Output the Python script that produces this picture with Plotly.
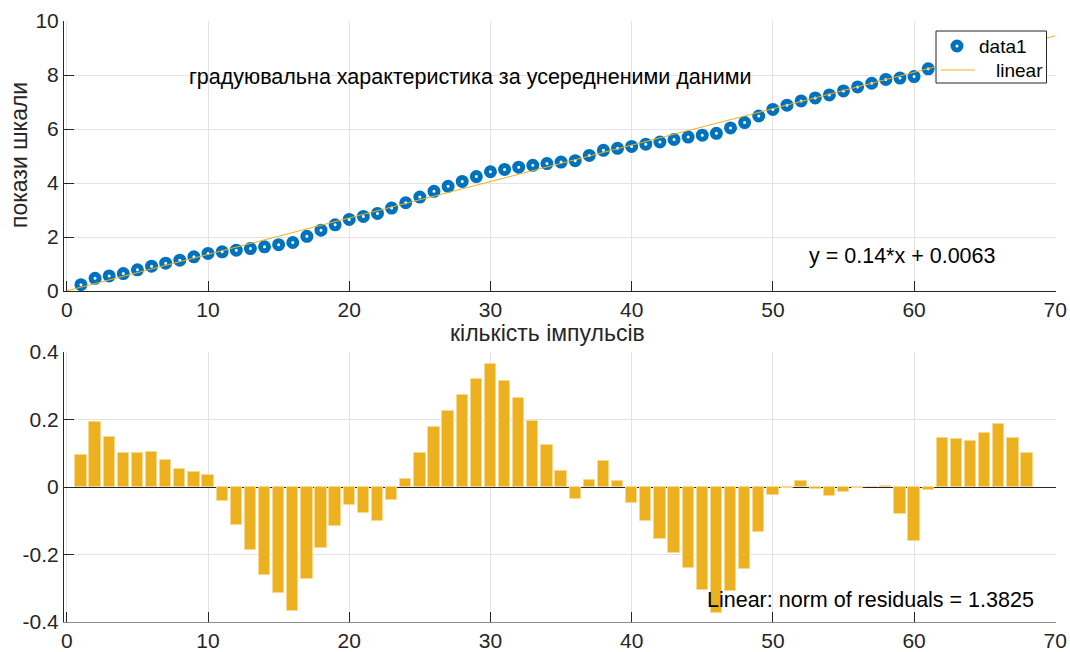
import plotly.graph_objects as go

# Pulse counts (x) and averaged scale readings (y)
pulses = list(range(1, 69))
readings = [
    0.235, 0.470, 0.558, 0.646, 0.783, 0.920, 1.030, 1.140, 1.265, 1.391,
    1.450, 1.511, 1.573, 1.635, 1.717, 1.797, 2.026, 2.254, 2.452, 2.650,
    2.762, 2.874, 3.070, 3.269, 3.480, 3.691, 3.875, 4.058, 4.237, 4.417,
    4.501, 4.586, 4.653, 4.718, 4.774, 4.827, 5.020, 5.210, 5.284, 5.356,
    5.437, 5.519, 5.611, 5.701, 5.771, 5.838, 6.039, 6.238, 6.482, 6.726,
    6.882, 7.040, 7.150, 7.263, 7.411, 7.559, 7.695, 7.835, 7.885, 7.941,
    8.227, 8.516, 8.646, 8.775, 8.936, 9.098, 9.190, 9.282,
]

# Residuals of the linear fit
residuals = [
    0.094, 0.194, 0.147, 0.100, 0.102, 0.104, 0.079, 0.054, 0.045, 0.036,
    -0.040, -0.114, -0.187, -0.260, -0.313, -0.368, -0.274, -0.181, -0.117, -0.054,
    -0.077, -0.100, -0.039, 0.025, 0.101, 0.177, 0.226, 0.274, 0.319, 0.364,
    0.313, 0.263, 0.195, 0.125, 0.046, -0.036, 0.022, 0.077, 0.017, -0.046,
    -0.100, -0.153, -0.196, -0.241, -0.306, -0.374, -0.308, -0.244, -0.134, -0.025,
    -0.004, 0.019, -0.006, -0.028, -0.015, -0.002, -0.001, 0.004, -0.080, -0.159,
    -0.008, 0.146, 0.141, 0.135, 0.161, 0.188, 0.145, 0.102,
]

# Linear fit coefficients and the x span the fitted line covers
fit_slope = 0.1349
fit_intercept = 0.0063
fit_x = [0, 70]
fit_y = [fit_slope * v + fit_intercept for v in fit_x]

BLUE = "#0072BD"
GOLD = "#EDB120"
AX = "#262626"
GRID = "#E3E3E3"
FONT = "Liberation Sans, Arial, sans-serif"
W, H = 1070, 652
TXT = 21.5
TITLE = 23


def px_x(p):
    return p / W


def px_y(p):
    return 1 - p / H


fig = go.Figure()

fig.add_trace(go.Scatter(
    x=pulses, y=readings, mode="markers", name="data1", showlegend=False,
    marker=dict(symbol="circle", size=8, color="white",
                line=dict(color=BLUE, width=5)),
    xaxis="x", yaxis="y",
))
fig.add_trace(go.Scatter(
    x=fit_x, y=fit_y, mode="lines", name="linear", showlegend=False,
    line=dict(color=GOLD, width=1),
    xaxis="x", yaxis="y", cliponaxis=False,
))
fig.add_trace(go.Bar(
    x=pulses, y=residuals, width=0.8, showlegend=False,
    marker=dict(color=GOLD, line=dict(color="#F6D98F", width=1)),
    xaxis="x2", yaxis="y2",
))

common_x = dict(
    range=[-0.2, 70.05], tickvals=[0, 10, 20, 30, 40, 50, 60, 70],
    ticks="inside", ticklen=10, tickcolor=AX, tickwidth=1,
    showgrid=True, gridcolor=GRID, gridwidth=1, zeroline=False,
    showline=True, linewidth=1, automargin=False,
    tickfont=dict(family=FONT, size=21, color=AX),
)
common_y = dict(
    ticks="inside", ticklen=10, tickcolor=AX, tickwidth=1,
    showgrid=True, gridcolor=GRID, gridwidth=1,
    showline=True, linecolor=AX, linewidth=1, automargin=False,
    tickfont=dict(family=FONT, size=21, color=AX),
)

# Legend box drawn in paper space (box, marker sample, line sample)
legend_shapes = [
    dict(type="rect", xref="paper", yref="paper",
         x0=px_x(936), x1=px_x(1046.5), y0=px_y(83), y1=px_y(31),
         fillcolor="white", line=dict(color=AX, width=1), layer="above"),
    dict(type="circle", xref="paper", yref="paper",
         x0=px_x(953), x1=px_x(961), y0=px_y(50), y1=px_y(42),
         fillcolor="white", line=dict(color=BLUE, width=5), layer="above"),
    dict(type="line", xref="paper", yref="paper",
         x0=px_x(941), x1=px_x(975), y0=px_y(70), y1=px_y(70),
         line=dict(color=GOLD, width=1), layer="above"),
]

fig.update_layout(
    width=W, height=H,
    margin=dict(l=0, r=0, t=0, b=0, pad=0),
    paper_bgcolor="white", plot_bgcolor="white",
    font=dict(family=FONT, size=21, color="#000000"),
    xaxis=dict(domain=[px_x(64), px_x(1056)], anchor="y",
               linecolor=AX, **common_x),
    yaxis=dict(domain=[px_y(291), px_y(21)], anchor="x",
               range=[0, 10], tickvals=[0, 2, 4, 6, 8, 10],
               zeroline=False, **common_y),
    xaxis2=dict(domain=[px_x(64), px_x(1056)], anchor="y2",
                linecolor="#8C8C8C", **common_x),
    yaxis2=dict(domain=[px_y(622), px_y(352)], anchor="x2",
                range=[-0.4, 0.4], tickvals=[-0.4, -0.2, 0, 0.2, 0.4],
                ticktext=["-0.4", "-0.2", "0", "0.2", "0.4"],
                zeroline=True, zerolinecolor=AX, zerolinewidth=1,
                **common_y),
    bargap=0,
    showlegend=False,
    shapes=legend_shapes,
    annotations=[
        dict(text="data1", xref="paper", yref="paper",
             x=px_x(977), y=px_y(46), xanchor="left", yanchor="middle",
             showarrow=False, font=dict(family=FONT, size=19, color="#000000")),
        dict(text="linear", xref="paper", yref="paper",
             x=px_x(994), y=px_y(70), xanchor="left", yanchor="middle",
             showarrow=False, font=dict(family=FONT, size=19, color="#000000")),
        dict(text="градуювальна характеристика за усередненими даними",
             xref="paper", yref="paper", x=px_x(187), y=px_y(77),
             xanchor="left", yanchor="middle", showarrow=False,
             font=dict(family=FONT, size=TXT, color="#000000")),
        dict(text="y = 0.14*x + 0.0063",
             xref="paper", yref="paper", x=px_x(807), y=px_y(256),
             xanchor="left", yanchor="middle", showarrow=False,
             font=dict(family=FONT, size=TXT, color="#000000")),
        dict(text="Linear: norm of residuals = 1.3825",
             xref="paper", yref="paper", x=px_x(705), y=px_y(600),
             xanchor="left", yanchor="middle", showarrow=False,
             font=dict(family=FONT, size=TXT, color="#000000")),
        dict(text="кількість імпульсів",
             xref="paper", yref="paper", x=px_x(547), y=px_y(333),
             xanchor="center", yanchor="middle", showarrow=False,
             font=dict(family=FONT, size=TITLE, color=AX)),
        dict(text="покази шкали",
             xref="paper", yref="paper", x=px_x(19), y=px_y(155),
             xanchor="center", yanchor="middle", showarrow=False,
             textangle=-90,
             font=dict(family=FONT, size=TITLE, color=AX)),
    ],
)

fig.write_html("out.html")
